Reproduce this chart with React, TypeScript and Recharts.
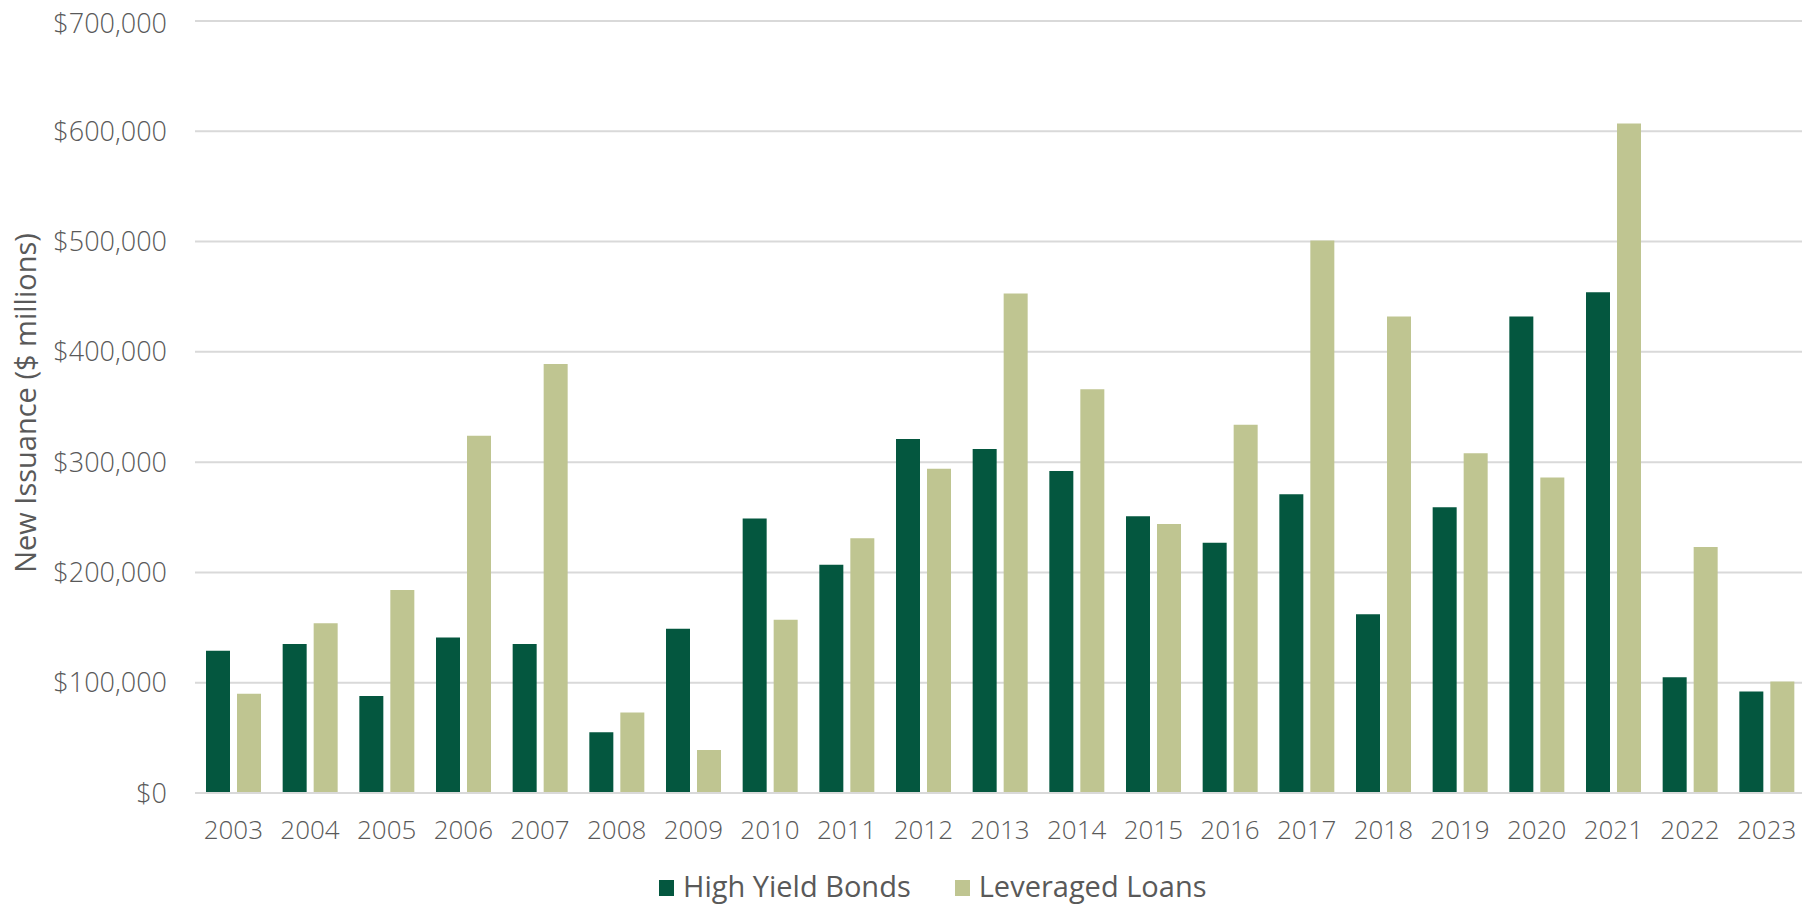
import React from 'react';
import { BarChart, Bar, XAxis, YAxis, CartesianGrid, Legend } from 'recharts';

// new issuance, $ millions
const years = [
  '2003', '2004', '2005', '2006', '2007', '2008', '2009', '2010', '2011', '2012', '2013',
  '2014', '2015', '2016', '2017', '2018', '2019', '2020', '2021', '2022', '2023',
];
const highYieldBonds = [
  129000, 135000, 88000, 141000, 135000, 55000, 149000, 249000, 207000, 321000, 312000,
  292000, 251000, 227000, 271000, 162000, 259000, 432000, 454000, 105000, 92000,
];
const leveragedLoans = [
  90000, 154000, 184000, 324000, 389000, 73000, 39000, 157000, 231000, 294000, 453000,
  366000, 244000, 334000, 501000, 432000, 308000, 286000, 607000, 223000, 101000,
];
const yTicks = [0, 100000, 200000, 300000, 400000, 500000, 600000, 700000];

const seriesNames = ['High Yield Bonds', 'Leveraged Loans'];
const DARK = '#04573f';
const LIGHT = '#bfc591';
const TEXT = '#595959';
const FONT = '"Open Sans", "Noto Sans", sans-serif';

const data = years.map((year, i) => ({
  year,
  hy: highYieldBonds[i],
  ll: leveragedLoans[i],
}));

const fmtMoney = (v: number) => '$' + v.toLocaleString('en-US');

const LegendContent = () => (
  <div style={{ display: 'flex', alignItems: 'center', fontFamily: FONT, fontSize: 29, color: TEXT, lineHeight: '36px' }}>
    {seriesNames.map((name, i) => (
      <div key={name} style={{ display: 'flex', alignItems: 'center', marginRight: i === 0 ? 44 : 0 }}>
        <div style={{ width: 15, height: 16, background: i === 0 ? DARK : LIGHT, marginRight: 9, marginTop: 4 }} />
        <span>{name}</span>
      </div>
    ))}
  </div>
);

export default function App() {
  return (
    <div style={{ width: 1802, height: 898 }}>
      <BarChart
        width={1802}
        height={898}
        data={data}
        margin={{ top: 13, right: 5, left: 0, bottom: 53 }}
        barSize={24}
        barGap={7}
      >
        <CartesianGrid vertical={false} stroke="#d9d9d9" strokeWidth={2} />
        <XAxis
          dataKey="year"
          axisLine={{ stroke: '#d9d9d9', strokeWidth: 2 }}
          tickLine={false}
          tickSize={0}
          tickMargin={28}
          height={60}
          tick={{ fontFamily: FONT, fontSize: 26, fontWeight: 300, fill: TEXT }}
          interval={0}
        />
        <YAxis
          width={187}
          domain={[0, 700000]}
          ticks={yTicks}
          axisLine={false}
          tickLine={false}
          tickSize={0}
          tickMargin={28}
          tickFormatter={fmtMoney}
          tick={{ fontFamily: FONT, fontSize: 27, fontWeight: 300, fill: TEXT }}
          label={({ viewBox }: any) => {
            const cy = viewBox.y + viewBox.height / 2 - 4;
            return (
              <text
                x={28}
                y={cy}
                transform={`rotate(-90, 28, ${cy})`}
                textAnchor="middle"
                style={{ fontFamily: FONT, fontSize: 29, fill: TEXT }}
              >
                New Issuance ($ millions)
              </text>
            );
          }}
        />
        <Legend
          verticalAlign="middle"
          content={<LegendContent />}
          wrapperStyle={{ left: 651, top: 860, width: 'auto' }}
        />
        <Bar dataKey="hy" name={seriesNames[0]} fill={DARK} isAnimationActive={false} />
        <Bar dataKey="ll" name={seriesNames[1]} fill={LIGHT} isAnimationActive={false} />
      </BarChart>
    </div>
  );
}
